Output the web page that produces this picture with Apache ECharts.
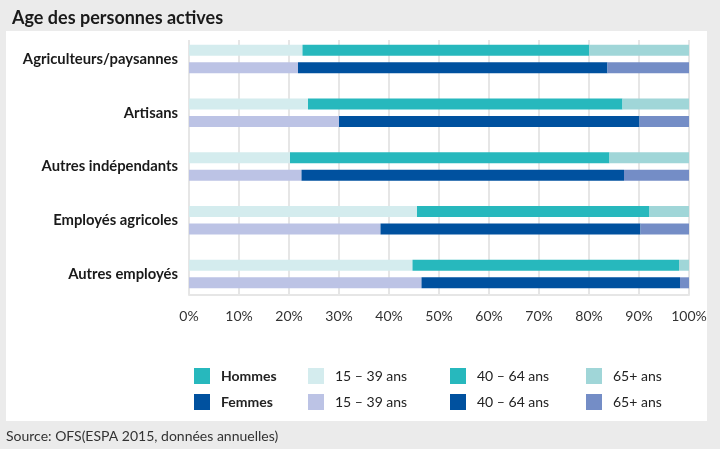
<!DOCTYPE html>
<html>
<head>
<meta charset="utf-8">
<script src="https://cdn.jsdelivr.net/npm/echarts@6/dist/echarts.min.js"></script>
<style>
html,body{margin:0;padding:0;background:#ebebeb;}
#c{width:720px;height:449px;}
</style>
</head>
<body>
<div id="c"></div>
<script>
const categories = ['Agriculteurs/paysannes', 'Artisans', 'Autres indépendants', 'Employés agricoles', 'Autres employés'];
const hommes15 = [22.7, 23.8, 20.2, 45.6, 44.7];
const hommes40 = [57.3, 62.9, 63.9, 46.5, 53.3];
const hommes65 = [20.0, 13.3, 15.9, 7.9, 2.0];
const femmes15 = [21.8, 30.0, 22.5, 38.3, 46.5];
const femmes40 = [61.9, 60.1, 64.5, 52.0, 51.7];
const femmes65 = [16.3, 9.9, 13.0, 9.7, 1.8];
const ageLabels = ['15 – 39 ans', '40 – 64 ans', '65+ ans'];
const sexLabels = ['Hommes', 'Femmes'];

const FONT = 'Lato';
const colH = ['#d4ecee', '#27b8bd', '#a0d6d8'];
const colF = ['#bcc3e5', '#00519f', '#748dc6'];

const chart = echarts.init(document.getElementById('c'));

function barSeries(sex, idx, data, color, stack) {
  return {
    name: sex + ' ' + ageLabels[idx],
    type: 'bar',
    xAxisIndex: 1, yAxisIndex: 1,
    stack: stack,
    data: data,
    barWidth: 11,
    barGap: '60%',
    itemStyle: { color: color },
    emphasis: { disabled: true },
    silent: true
  };
}

const legendBase = {
  orient: 'vertical',
  top: 363,
  itemWidth: 16,
  itemHeight: 16,
  itemGap: 10,
  icon: 'rect',
  selectedMode: false,
  textStyle: { fontFamily: FONT, fontSize: 14, color: '#222', padding: [0, 0, 0, 6] },
  formatter: function (n) { return n.replace(/^(Hommes|Femmes) /, ''); }
};

const option = {
  animation: false,
  textStyle: { fontFamily: FONT },
  title: {
    text: 'Age des personnes actives',
    left: 7, top: 4,
    textStyle: { fontFamily: FONT, fontSize: 18, fontWeight: 'bold', color: '#1a1a1a' }
  },
  graphic: [
    { type: 'rect', z: -10, shape: { x: 6, y: 31, width: 701, height: 390 }, style: { fill: '#ffffff' } },
    { type: 'text', left: 6, top: 429, style: { text: 'Source: OFS(ESPA 2015, données annuelles)', fontFamily: FONT, fontSize: 14, fill: '#333' } }
  ],
  legend: [
    Object.assign({}, legendBase, { left: 189, data: sexLabels, textStyle: Object.assign({}, legendBase.textStyle, { fontWeight: 'bold' }) }),
    Object.assign({}, legendBase, { left: 303, data: ['Hommes ' + ageLabels[0], 'Femmes ' + ageLabels[0]] }),
    Object.assign({}, legendBase, { left: 445, data: ['Hommes ' + ageLabels[1], 'Femmes ' + ageLabels[1]] }),
    Object.assign({}, legendBase, { left: 581, data: ['Hommes ' + ageLabels[2], 'Femmes ' + ageLabels[2]] })
  ],
  grid: [
    { left: 189, width: 500, top: 40, height: 255 },
    { left: 189, width: 500, top: 32.125, height: 268.75 }
  ],
  xAxis: [
    {
      gridIndex: 0, type: 'value', min: 0, max: 100, interval: 10,
      axisLine: { show: true, lineStyle: { color: '#e6e6e6', width: 2 } },
      axisTick: { show: false },
      splitLine: { show: true, lineStyle: { color: '#e6e6e6', width: 2 } },
      axisLabel: { formatter: '{value}%', fontFamily: FONT, fontSize: 14, color: '#333', margin: 14 }
    },
    {
      gridIndex: 1, type: 'value', min: 0, max: 100, show: false,
      splitLine: { show: false }
    }
  ],
  yAxis: [
    { gridIndex: 0, type: 'category', data: categories, show: false, inverse: true },
    {
      gridIndex: 1, type: 'category', data: categories, inverse: true,
      axisLine: { show: false }, axisTick: { show: false },
      axisLabel: { fontFamily: FONT, fontSize: 14.8, fontWeight: 'bold', color: '#1a1a1a', margin: 11 }
    }
  ],
  series: [
    { name: 'Hommes', type: 'bar', xAxisIndex: 0, yAxisIndex: 0, data: [], itemStyle: { color: colH[1] } },
    { name: 'Femmes', type: 'bar', xAxisIndex: 0, yAxisIndex: 0, data: [], itemStyle: { color: colF[1] } },
    barSeries('Hommes', 0, hommes15, colH[0], 'H'),
    barSeries('Hommes', 1, hommes40, colH[1], 'H'),
    barSeries('Hommes', 2, hommes65, colH[2], 'H'),
    barSeries('Femmes', 0, femmes15, colF[0], 'F'),
    barSeries('Femmes', 1, femmes40, colF[1], 'F'),
    barSeries('Femmes', 2, femmes65, colF[2], 'F')
  ]
};
chart.setOption(option);
</script>
</body>
</html>
